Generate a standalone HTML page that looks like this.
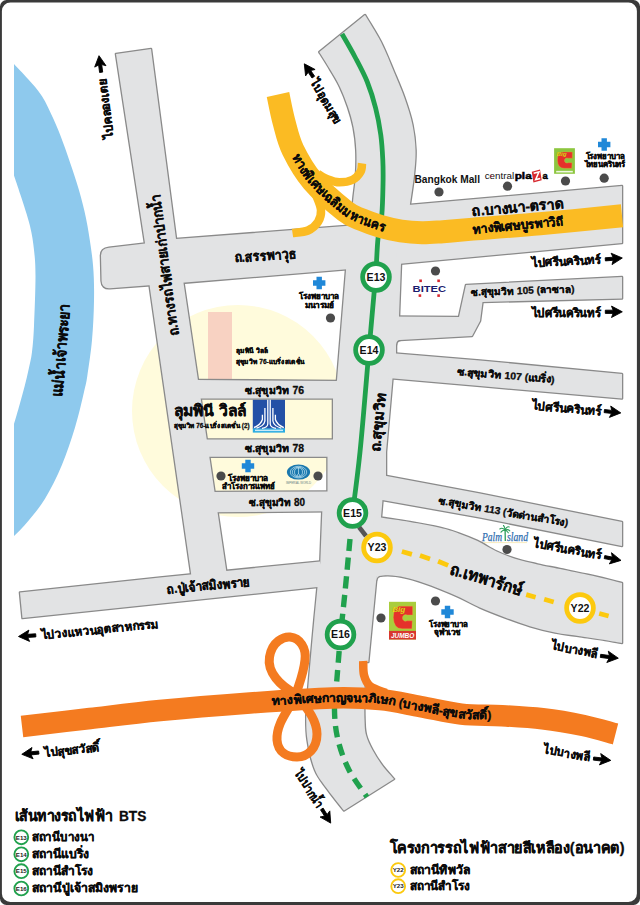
<!DOCTYPE html>
<html lang="th"><head><meta charset="utf-8"><title>Map</title>
<style>html,body{margin:0;padding:0;background:#fff}body{width:640px;height:905px;overflow:hidden;font-family:"Liberation Sans",sans-serif}svg{display:block}</style>
</head><body>
<svg width="640" height="905" viewBox="0 0 640 905" font-family="Liberation Sans, sans-serif">
<defs>
<path id="curveA" d="M295.46 155.03L297.31 158.44L300.57 164.19L303.92 169.52L308.39 175.88L311.2 179.43L312.7 181.22L316.83 185.76L322.61 191.53L327.03 195.67L331.3 199.52L336.91 204.38L342.75 209.21L348.93 213.85L355.7 217.4L361.82 219.73L367.94 222.22L375.3 224.78L382.02 226.77L391.7 229.4"/>
<path id="curveB" d="M271.99 701.41L275.83 701.14L282.39 700.69L288.63 700.27L296.34 699.77L303.15 699.35L309.24 699L317.34 698.58L325.2 698.23L331.77 698.01L340.41 697.83L349.83 697.81L357.19 697.95L363.75 698.23L370.5 698.67L376.52 699.17L382.51 699.77L391.53 701.02L398.77 702.3L404.83 703.49L411.35 704.81L417.49 706.02L425.38 707.5L433.4 709.13L439.72 710.44L446.17 711.72L453.59 713.03L461.06 714.07L468.1 714.69L475.16 715.02L482.98 715.19L489.25 715.29L500 715.46"/>
</defs>
<path d="M14 64C16.3 66.5 23.3 73.6 28 79C32.7 84.4 37.7 89.5 42 96.2C46.3 102.9 50.1 111.6 53.6 119.3C57.1 127 59.9 134 63 142.4C66.2 150.8 69.5 160.6 72.5 169.7C75.5 178.8 78.4 187.6 80.9 197C83.4 206.4 85.5 214.7 87.5 226C89.5 237.3 91.9 252.5 93 265C94.1 277.5 94.2 288.5 94 301C93.8 313.5 93.1 327.5 92 340C90.9 352.5 88.6 367.3 87.3 376C86 384.7 86 383.4 84 392C82 400.6 78.7 415.3 75 427.5C71.3 439.7 66.9 453.1 61.9 465C56.9 476.9 50.9 489.1 45 498.8C39.1 508.5 31.5 517 26.3 523.2C21.1 529.4 16.1 533.9 14 536 L14 424 C15 420.9 18 410.4 19.8 404C21.6 397.6 23.2 391.8 24.7 386C26.2 380.2 27.5 374.7 28.7 369C29.9 363.3 31.1 359.2 32 352C32.9 344.8 33.4 338.7 34 326C34.6 313.3 35.5 288.7 35.5 276C35.5 263.3 34.9 258.3 34 250C33.1 241.7 32.2 235.2 30 226C27.8 216.8 23.2 203.4 20.5 195C17.8 186.6 15.1 178.8 14 175.5 Z" fill="#8ec9ed"/>
<circle cx="238" cy="411" r="106" fill="#fffbdc"/>
<rect x="208" y="312" width="24" height="67.5" fill="#f8d2c2"/>
<g fill="none" stroke="#8a8a8a" stroke-width="2.6" stroke-linejoin="round">
<path d="M116 54L151 49L176 239L183.4 282.2L227 576L192 580L150 288.5L145 243.5Z"/>
<path d="M109 247.7 L145 243.6 L176 239 L352 225.6 L350 269 L185 282.6 L110 288.2 Q102 288.8 101.6 281 L101 255.5 Q101 248.5 109 247.7Z"/>
<path d="M319.3 52C321.2 55 327.1 64.2 330.5 70C333.9 75.8 337.1 80.8 340 87C342.9 93.2 345.7 100.2 348 107C350.3 113.8 352.2 120.3 353.6 127.5C355 134.7 355.9 142.1 356.3 150C356.7 157.9 356.5 166.7 356 175C355.5 183.3 354 191.7 353.2 200C352.4 208.3 351.8 216.7 351 225C350.2 233.3 349.3 242.5 348.5 250C347.7 257.5 346.4 266.7 346 270L337 380L333 398.8L333 439.6L327.5 456.8L327.5 491.8L322.3 511.5L320.3 562L317.5 587C317 592.5 315.4 608.8 314.3 620C313.2 631.2 312.2 642.7 311.2 654C310.2 665.3 309 677.8 308.2 688C307.4 698.2 306.4 706.3 306.3 715C306.2 723.7 306.1 730.8 307.5 740C308.9 749.2 311.6 761.7 315 770C318.4 778.3 323.2 783.2 328 790C332.8 796.8 341.3 807.1 344 810.5L394 779C392 776.7 385.6 769.8 382 765C378.4 760.2 375.2 755 372.5 750C369.8 745 367.3 740 366 735C364.7 730 364.8 727.5 364.5 720C364.2 712.5 364.3 699.7 364.5 690C364.7 680.3 365.3 666.7 365.5 662L368.3 662L376.6 576L381 517.5L382.5 500L386 476L386 452L392.5 378.5L396 353.5L396 340L399 316.5L401 264L410 204C410.7 199.2 413.1 184 414 175C414.9 166 415.8 158.3 415.5 150C415.2 141.7 414.3 133.7 412.5 125C410.7 116.3 407.6 106.8 404.5 98C401.4 89.2 397.9 81.3 394 72C390.1 62.7 385.8 51.5 381 42C376.2 32.5 367.7 19.5 365 15Z"/>
<path d="M196 380L340 381L340 398.5L196 398.5Z"/>
<path d="M203 439.6L336 439.6L336 456.8L203 456.8Z"/>
<path d="M210 492L330 491.5L330 511.3L210 512.3Z"/>
<path d="M20 592.5L160 577.5L320 561.5L320 586.8L22.5 618Z"/>
<path d="M405 205.3L622 186.1L622 243L395 264.3Z"/>
<path d="M466 285 L622 277 L622 298.5 L482.5 302 L480 321 L472 336 L400 340 L390 340 L390 316.5 L459 317Z"/>
<path d="M390 353L480 360.5L622 374L622 398.5L480 386L388 378Z"/>
<path d="M380 474.8L480 493.5L622 522L622 546L480 517.5L378 499.2Z"/>
<path d="M374 516C375.2 516.2 375 516.5 381 517.5C387 518.5 400.2 520.3 410 522C419.8 523.7 431.9 525.9 440 527.8C448.1 529.7 452.5 531.2 458.8 533.4C465 535.6 471.2 538 477.5 541C483.8 544 490 548.3 496.2 551.3C502.5 554.3 508.1 556.6 515 558.8C521.9 561 530 562.7 537.5 564.4C545 566.1 550.8 567.1 560 569C569.2 570.9 582.2 573.5 592.5 575.8C602.8 578.1 617.1 581.8 622 583L622 643C619.2 642.7 612 641.2 605 640C598 638.8 588.3 637.5 580 636.2C571.7 635 563.3 634.2 555 632.5C546.7 630.8 538.3 628.7 530 626.2C521.7 623.7 513.3 620.6 505 617.5C496.7 614.4 487.5 610.8 480 607.5C472.5 604.2 466.7 600.6 460 597.5C453.3 594.4 446.2 591.5 440 589C433.8 586.5 428.3 584.4 422.5 582.5C416.7 580.6 410.8 578.7 405 577.5C399.2 576.3 393.5 575.4 388 575.3C382.5 575.2 374.7 576.7 372 577Z"/>
<path d="M395.8 339.7L401 339.6Q396.3 340 396 345Z"/>
<path d="M376.3 575.6L381.5 575.3Q377 575.8 375.9 580.8Z"/>
</g><g fill="#e2e3e4">
<path d="M116 54L151 49L176 239L183.4 282.2L227 576L192 580L150 288.5L145 243.5Z"/>
<path d="M109 247.7 L145 243.6 L176 239 L352 225.6 L350 269 L185 282.6 L110 288.2 Q102 288.8 101.6 281 L101 255.5 Q101 248.5 109 247.7Z"/>
<path d="M319.3 52C321.2 55 327.1 64.2 330.5 70C333.9 75.8 337.1 80.8 340 87C342.9 93.2 345.7 100.2 348 107C350.3 113.8 352.2 120.3 353.6 127.5C355 134.7 355.9 142.1 356.3 150C356.7 157.9 356.5 166.7 356 175C355.5 183.3 354 191.7 353.2 200C352.4 208.3 351.8 216.7 351 225C350.2 233.3 349.3 242.5 348.5 250C347.7 257.5 346.4 266.7 346 270L337 380L333 398.8L333 439.6L327.5 456.8L327.5 491.8L322.3 511.5L320.3 562L317.5 587C317 592.5 315.4 608.8 314.3 620C313.2 631.2 312.2 642.7 311.2 654C310.2 665.3 309 677.8 308.2 688C307.4 698.2 306.4 706.3 306.3 715C306.2 723.7 306.1 730.8 307.5 740C308.9 749.2 311.6 761.7 315 770C318.4 778.3 323.2 783.2 328 790C332.8 796.8 341.3 807.1 344 810.5L394 779C392 776.7 385.6 769.8 382 765C378.4 760.2 375.2 755 372.5 750C369.8 745 367.3 740 366 735C364.7 730 364.8 727.5 364.5 720C364.2 712.5 364.3 699.7 364.5 690C364.7 680.3 365.3 666.7 365.5 662L368.3 662L376.6 576L381 517.5L382.5 500L386 476L386 452L392.5 378.5L396 353.5L396 340L399 316.5L401 264L410 204C410.7 199.2 413.1 184 414 175C414.9 166 415.8 158.3 415.5 150C415.2 141.7 414.3 133.7 412.5 125C410.7 116.3 407.6 106.8 404.5 98C401.4 89.2 397.9 81.3 394 72C390.1 62.7 385.8 51.5 381 42C376.2 32.5 367.7 19.5 365 15Z"/>
<path d="M196 380L340 381L340 398.5L196 398.5Z"/>
<path d="M203 439.6L336 439.6L336 456.8L203 456.8Z"/>
<path d="M210 492L330 491.5L330 511.3L210 512.3Z"/>
<path d="M20 592.5L160 577.5L320 561.5L320 586.8L22.5 618Z"/>
<path d="M405 205.3L622 186.1L622 243L395 264.3Z"/>
<path d="M466 285 L622 277 L622 298.5 L482.5 302 L480 321 L472 336 L400 340 L390 340 L390 316.5 L459 317Z"/>
<path d="M390 353L480 360.5L622 374L622 398.5L480 386L388 378Z"/>
<path d="M380 474.8L480 493.5L622 522L622 546L480 517.5L378 499.2Z"/>
<path d="M374 516C375.2 516.2 375 516.5 381 517.5C387 518.5 400.2 520.3 410 522C419.8 523.7 431.9 525.9 440 527.8C448.1 529.7 452.5 531.2 458.8 533.4C465 535.6 471.2 538 477.5 541C483.8 544 490 548.3 496.2 551.3C502.5 554.3 508.1 556.6 515 558.8C521.9 561 530 562.7 537.5 564.4C545 566.1 550.8 567.1 560 569C569.2 570.9 582.2 573.5 592.5 575.8C602.8 578.1 617.1 581.8 622 583L622 643C619.2 642.7 612 641.2 605 640C598 638.8 588.3 637.5 580 636.2C571.7 635 563.3 634.2 555 632.5C546.7 630.8 538.3 628.7 530 626.2C521.7 623.7 513.3 620.6 505 617.5C496.7 614.4 487.5 610.8 480 607.5C472.5 604.2 466.7 600.6 460 597.5C453.3 594.4 446.2 591.5 440 589C433.8 586.5 428.3 584.4 422.5 582.5C416.7 580.6 410.8 578.7 405 577.5C399.2 576.3 393.5 575.4 388 575.3C382.5 575.2 374.7 576.7 372 577Z"/>
<path d="M395.8 339.7L401 339.6Q396.3 340 396 345Z"/>
<path d="M376.3 575.6L381.5 575.3Q377 575.8 375.9 580.8Z"/>
</g>
<path d="M342 34C344.2 37.8 350.8 49 355 57C359.2 65 363.9 73.5 367.3 82C370.7 90.5 373.4 99.2 375.6 108C377.9 116.8 379.6 126.3 380.8 135C382 143.7 382.4 151.7 382.8 160C383.2 168.3 383.2 175.8 383 185C382.8 194.2 382.6 206.1 381.8 215C381 223.9 379.1 228.2 378 238.5C376.9 248.8 377 258.4 375.5 277C374 295.6 371.6 320.8 369 350C366.4 379.2 362.8 424.8 360 452C357.2 479.2 353.8 502.8 352.5 513" fill="none" stroke="#20a14d" stroke-width="4.8"/>
<path d="M350 539C349.2 547.5 346.8 574.1 345.2 590C343.6 605.9 341.3 627.1 340.5 634.5" fill="none" stroke="#20a14d" stroke-width="5.4" stroke-dasharray="12.1 6.65"/>
<path d="M340.5 634.5C339.9 641.8 338 665.3 337 678C336 690.7 334.3 700.2 334.5 710.5C334.7 720.8 335.6 730.1 338 740C340.4 749.9 344.2 760.5 349 770C353.8 779.5 364 792.5 367 797" fill="none" stroke="#20a14d" stroke-width="5.4" stroke-dasharray="11.5 7.25" stroke-dashoffset="2"/>
<g fill="none" stroke="#fbbb23">
<path d="M278 94.5C279 99.1 281.5 112.8 284 122C286.5 131.2 288.2 140.2 293 150C297.8 159.8 303.8 170.8 312.5 181C321.2 191.2 336.8 204.5 345 211C353.2 217.5 356.2 217.3 362 219.8C367.8 222.3 373.5 224.3 380 226.2C386.5 228.1 394 229.9 401 231C408 232.1 415 232.6 422 232.7C429 232.8 435 232.2 443 231.7C451 231.1 453.8 230.7 470 229.4C486.2 228.1 514.7 226.1 540 223.8C565.3 221.5 608.3 217.1 622 215.8" stroke-width="23"/>
<path d="M362 163.3C361.8 164.7 362.1 169.2 360.5 171.9C358.9 174.6 356.2 178 352.7 179.7C349.2 181.4 343.5 182.3 339.4 182.3C335.3 182.3 331.6 180.9 328 179.5C324.4 178.1 319.7 174.9 318 174" stroke-width="8.5"/>
<path d="M292.5 233C295.1 232.6 303.8 232.3 308 230.5C312.2 228.7 315.8 225.4 318 222C320.2 218.6 321.3 214.5 321 210C320.7 205.5 317.8 199.3 316 195C314.2 190.7 311 185.8 310 184" stroke-width="8.5"/>
</g>
<g fill="none" stroke="#f47b20">
<path d="M22 726.5C33.3 725.2 67 721.2 90 718.5C113 715.8 133.3 713.1 160 710.5C186.7 707.9 221.3 705.1 250 703C278.7 700.9 310.3 698.6 332 698C353.7 697.4 365.2 698.1 380 699.5C394.8 700.9 407.1 704.2 420.6 706.6C434.2 709 447.7 712.6 461.3 714.1C474.9 715.6 488.4 714.9 502 715.7C515.5 716.5 529.1 717.2 542.6 718.8C556.1 720.4 571.1 723 583.3 725.5C595.4 728 610.1 732.6 615.5 734" stroke-width="21.5"/>
<path d="M296 694C280 686 267 672 269.5 657C272 641 284 636.5 290 637C300 638 306.5 648 305 660C303.5 674 299 684 296 694C291 708 276 722 277 740C278 753 288 757 297 757C308 757 317 748 317 734C317 718 303 704 296 694Z" stroke-width="9"/>
<path d="M363.2 661C363.4 663.3 362.9 670.8 364 675C365.1 679.2 366.3 683 370 686C373.7 689 383.3 691.8 386 693" stroke-width="8.5"/>
</g>
<path d="M359 527L366 536" stroke="#555" stroke-width="4.5"/>
<path d="M401.9 551.5L411.9 554.4M420 555.6L430 559M438.1 561.3L448.1 565.4" stroke="#fcc90e" stroke-width="4.8" fill="none"/>
<path d="M526.2 594.6L535.6 597.2M544.2 599.2L553.7 602" stroke="#fcc90e" stroke-width="4.8" fill="none"/>
<path d="M599.2 613.5L608.6 616" stroke="#fcc90e" stroke-width="4.8" fill="none"/>
<g font-family="Liberation Sans, sans-serif" fill="#111">
<circle cx="376" cy="277" r="13.35" fill="#fff" stroke="#20a14d" stroke-width="4.8"/>
<text x="376" y="280.85" text-anchor="middle" font-size="10.6" font-weight="700">E13</text>
<circle cx="369" cy="350" r="13.35" fill="#fff" stroke="#20a14d" stroke-width="4.8"/>
<text x="369" y="353.85" text-anchor="middle" font-size="10.6" font-weight="700">E14</text>
<circle cx="352.5" cy="513" r="13.35" fill="#fff" stroke="#20a14d" stroke-width="4.8"/>
<text x="352.5" y="516.85" text-anchor="middle" font-size="10.6" font-weight="700">E15</text>
<circle cx="340.5" cy="634.5" r="13.35" fill="#fff" stroke="#20a14d" stroke-width="4.8"/>
<text x="340.5" y="638.35" text-anchor="middle" font-size="10.6" font-weight="700">E16</text>
<circle cx="377" cy="547.5" r="13.35" fill="#fff" stroke="#fcc90e" stroke-width="4.8"/>
<text x="377" y="551.35" text-anchor="middle" font-size="10.6" font-weight="700">Y23</text>
<circle cx="580" cy="608" r="13.35" fill="#fff" stroke="#fcc90e" stroke-width="4.8"/>
<text x="580" y="611.85" text-anchor="middle" font-size="10.6" font-weight="700">Y22</text>
</g>
<circle cx="439" cy="192" r="4.6" fill="#4b4b4b"/>
<circle cx="507.5" cy="186.2" r="4.6" fill="#4b4b4b"/>
<circle cx="565.5" cy="181" r="4.6" fill="#4b4b4b"/>
<circle cx="604.2" cy="178.2" r="4.6" fill="#4b4b4b"/>
<circle cx="435.5" cy="271" r="4.6" fill="#4b4b4b"/>
<circle cx="330.5" cy="318" r="4.6" fill="#4b4b4b"/>
<circle cx="221" cy="476" r="4.6" fill="#4b4b4b"/>
<circle cx="318" cy="476" r="4.6" fill="#4b4b4b"/>
<circle cx="381" cy="618" r="4.6" fill="#4b4b4b"/>
<circle cx="435.5" cy="601" r="4.6" fill="#4b4b4b"/>
<circle cx="507" cy="549.5" r="4.6" fill="#4b4b4b"/>
<path d="M601.5 138.3h5.4v3.5h3.5v5.4h-3.5v3.5h-5.4v-3.5h-3.5v-5.4h3.5Z" fill="#2088d8"/>
<path d="M316.5 276.8h5.4v3.5h3.5v5.4h-3.5v3.5h-5.4v-3.5h-3.5v-5.4h3.5Z" fill="#2088d8"/>
<path d="M245.3 459.8h5.4v3.5h3.5v5.4h-3.5v3.5h-5.4v-3.5h-3.5v-5.4h3.5Z" fill="#2088d8"/>
<path d="M444.8 605.8h5.4v3.5h3.5v5.4h-3.5v3.5h-5.4v-3.5h-3.5v-5.4h3.5Z" fill="#2088d8"/>
<g fill="#0b0b0b" stroke="#0b0b0b" stroke-width="0.3" stroke-linejoin="round" font-family="Liberation Sans, sans-serif" font-weight="700">
<text transform="translate(109.5 138.5) rotate(-96.5)" y="3.85" font-size="12" textLength="60.4" lengthAdjust="spacingAndGlyphs">ไปคลองเตย</text>
<path d="M102.7 72.1L101.7 64.6L106 65.7L99 55.7L94.7 67.1L98.6 65L99.6 72.5Z" fill="#000" stroke="#000" stroke-width="0.9" stroke-linejoin="round"/>
<text transform="translate(313.5 80.5) rotate(59.5)" y="3.85" font-size="12" textLength="49.3" lengthAdjust="spacingAndGlyphs">ไปอุดมสุข</text>
<path d="M314.6 76.2L310.7 70.5L315.1 69.5L304.3 63.8L305.6 75.9L308.2 72.3L312 78Z" fill="#000" stroke="#000" stroke-width="0.9" stroke-linejoin="round"/>
<text transform="translate(531.7 263.2) rotate(-2.8)" y="3.85" font-size="12" textLength="68.9" lengthAdjust="spacingAndGlyphs">ไปศรีนครินทร์</text>
<path d="M605.4 260.9L613.2 260.3L612 264.6L622.3 258L611.1 253.2L613 257.2L605.2 257.8Z" fill="#000" stroke="#000" stroke-width="0.9" stroke-linejoin="round"/>
<text transform="translate(531.7 312.7)" y="3.85" font-size="12" textLength="68.8" lengthAdjust="spacingAndGlyphs">ไปศรีนครินทร์</text>
<path d="M605.3 313.4L613.1 313.4L611.5 317.5L622.3 311.8L611.5 306.1L613.1 310.2L605.3 310.2Z" fill="#000" stroke="#000" stroke-width="0.9" stroke-linejoin="round"/>
<text transform="translate(532 405.5) rotate(5)" y="3.85" font-size="12" textLength="69.3" lengthAdjust="spacingAndGlyphs">ไปศรีนครินทร์</text>
<path d="M604.1 412.6L611.5 413.4L609.4 417.4L620.8 412.9L610.7 406.1L611.8 410.4L604.5 409.5Z" fill="#000" stroke="#000" stroke-width="0.9" stroke-linejoin="round"/>
<text transform="translate(534 543) rotate(10.6)" y="3.85" font-size="12" textLength="68.2" lengthAdjust="spacingAndGlyphs">ไปศรีนครินทร์</text>
<path d="M604.2 558.6L611.7 560.1L609.3 563.9L621 560.4L611.5 552.7L612.3 557.1L604.8 555.6Z" fill="#000" stroke="#000" stroke-width="0.9" stroke-linejoin="round"/>
<text transform="translate(41.3 635.5) rotate(-5.6)" y="3.85" font-size="12" textLength="117.3" lengthAdjust="spacingAndGlyphs">ไปวงแหวนอุตสาหกรรม</text>
<path d="M35.7 633.8L27.6 634.3L28.9 630.1L18.5 636.5L29.6 641.4L27.8 637.4L35.9 636.9Z" fill="#000" stroke="#000" stroke-width="0.9" stroke-linejoin="round"/>
<text transform="translate(44.5 753) rotate(-5.7)" y="3.85" font-size="12" textLength="55.1" lengthAdjust="spacingAndGlyphs">ไปสุขสวัสดิ์</text>
<path d="M38.6 751L30.8 751.8L32 747.5L21.8 754.3L33.1 758.8L31.1 754.9L39 754.1Z" fill="#000" stroke="#000" stroke-width="0.9" stroke-linejoin="round"/>
<text transform="translate(551.3 645.5) rotate(10.4)" y="3.85" font-size="12" textLength="47" lengthAdjust="spacingAndGlyphs">ไปบางพลี</text>
<path d="M600.3 657.4L609 658.6L606.8 662.5L618.3 658.2L608.3 651.2L609.4 655.5L600.7 654.3Z" fill="#000" stroke="#000" stroke-width="0.9" stroke-linejoin="round"/>
<text transform="translate(543.8 749.3) rotate(10.1)" y="3.85" font-size="12" textLength="46.9" lengthAdjust="spacingAndGlyphs">ไปบางพลี</text>
<path d="M593.3 760.1L601.5 761L599.4 764.9L610.8 760.4L600.7 753.6L601.8 757.9L593.7 757Z" fill="#000" stroke="#000" stroke-width="0.9" stroke-linejoin="round"/>
<text transform="translate(297.5 771) rotate(57.4)" y="3.85" font-size="12" textLength="42.7" lengthAdjust="spacingAndGlyphs">ไปปากน้ำ</text>
<path d="M320.5 809.8L324.5 816.1L320.1 817L330.7 823.1L329.8 810.9L327.1 814.5L323.1 808.1Z" fill="#000" stroke="#000" stroke-width="0.9" stroke-linejoin="round"/>
<text transform="translate(174 335.5) rotate(-97.6)" y="4.65" font-size="14" textLength="142.7" lengthAdjust="spacingAndGlyphs">ถ.ทางรถไฟสายเก่าปากน้ำ</text>
<text transform="translate(57.5 397) rotate(-85.4)" y="5" font-size="15.5" textLength="93.8" lengthAdjust="spacingAndGlyphs">แม่น้ำเจ้าพระยา</text>
<text transform="translate(234.4 257.8) rotate(-3.7)" y="4.65" font-size="14" textLength="62" lengthAdjust="spacingAndGlyphs">ถ.สรรพาวุธ</text>
<text transform="translate(472 211.2) rotate(-4.8)" y="4.8" font-size="14.5" textLength="91.3" lengthAdjust="spacingAndGlyphs">ถ.บางนา-ตราด</text>
<text transform="translate(473 229.5) rotate(-5.1)" y="4.1" font-size="12.5" textLength="90.8" lengthAdjust="spacingAndGlyphs">ทางพิเศษบูรพาวิถี</text>
<text transform="translate(471 292.5) rotate(-1.9)" y="3.2" font-size="10" textLength="103.6" lengthAdjust="spacingAndGlyphs">ซ.สุขุมวิท 105 (ลาซาล)</text>
<text transform="translate(457 371.5) rotate(5)" y="3.2" font-size="10" textLength="97.9" lengthAdjust="spacingAndGlyphs">ซ.สุขุมวิท 107 (แบริ่ง)</text>
<text transform="translate(438.5 500.5) rotate(9.9)" y="3.2" font-size="10" textLength="131.5" lengthAdjust="spacingAndGlyphs">ซ.สุขุมวิท 113 (วัดด่านสำโรง)</text>
<text transform="translate(375 452) rotate(-83.9)" y="4.65" font-size="14" textLength="58.9" lengthAdjust="spacingAndGlyphs">ถ.สุขุมวิท</text>
<text transform="translate(450.5 568.5) rotate(17)" y="5.4" font-size="16.5" textLength="75" lengthAdjust="spacingAndGlyphs">ถ.เทพารักษ์</text>
<text transform="translate(167 589) rotate(-5.2)" y="4.65" font-size="13" textLength="83.3" lengthAdjust="spacingAndGlyphs">ถ.ปู่เจ้าสมิงพราย</text>
<text transform="translate(245 390.5)" y="3.2" font-size="10" textLength="59" lengthAdjust="spacingAndGlyphs">ซ.สุขุมวิท 76</text>
<text transform="translate(245 448.4)" y="3.2" font-size="10" textLength="59" lengthAdjust="spacingAndGlyphs">ซ.สุขุมวิท 78</text>
<text transform="translate(249 502.3)" y="3.2" font-size="10" textLength="56" lengthAdjust="spacingAndGlyphs">ซ.สุขุมวิท 80</text>
<text transform="translate(174 411)" y="5" font-size="15.5" textLength="72" lengthAdjust="spacingAndGlyphs">ลุมพินี วิลล์</text>
<text transform="translate(174 425.5)" y="2.3" font-size="7" textLength="75.5" lengthAdjust="spacingAndGlyphs">สุขุมวิท 76-แบริ่ง สเตชั่น (2)</text>
<text transform="translate(236 351)" y="2.3" font-size="7" textLength="31.5" lengthAdjust="spacingAndGlyphs">ลุมพินี วิลล์</text>
<text transform="translate(236 362)" y="2.3" font-size="7" textLength="69" lengthAdjust="spacingAndGlyphs">สุขุมวิท 76-แบริ่ง สเตชั่น</text>
<text transform="translate(585.5 156.3)" y="2.55" font-size="8" textLength="39" lengthAdjust="spacingAndGlyphs">โรงพยาบาล</text>
<text transform="translate(584.5 164.7)" y="2.55" font-size="8" textLength="40.5" lengthAdjust="spacingAndGlyphs">ไทยนครินทร์</text>
<text transform="translate(298.5 296.5)" y="2.55" font-size="8" textLength="40" lengthAdjust="spacingAndGlyphs">โรงพยาบาล</text>
<text transform="translate(305 305.5)" y="2.55" font-size="8" textLength="29" lengthAdjust="spacingAndGlyphs">มนารมย์</text>
<text transform="translate(227.5 478)" y="2.55" font-size="8" textLength="40.5" lengthAdjust="spacingAndGlyphs">โรงพยาบาล</text>
<text transform="translate(222 486.2)" y="2.55" font-size="8" textLength="53" lengthAdjust="spacingAndGlyphs">สำโรงการแพทย์</text>
<text transform="translate(428.8 624)" y="2.55" font-size="8" textLength="39.2" lengthAdjust="spacingAndGlyphs">โรงพยาบาล</text>
<text transform="translate(433.8 632.5)" y="2.55" font-size="8" textLength="26.2" lengthAdjust="spacingAndGlyphs">จุฬาเวช</text>
<text font-size="13" dy="4.3"><textPath href="#curveA" textLength="119" lengthAdjust="spacingAndGlyphs">ทางพิเศษเฉลิมมหานคร</textPath></text>
<text font-size="12" dy="4"><textPath href="#curveB" textLength="221" lengthAdjust="spacingAndGlyphs">ทางพิเศษกาญจนาภิเษก (บางพลี-สุขสวัสดิ์)</textPath></text>
<text transform="translate(14.5 816.5)" y="4.6" font-size="15" textLength="98" lengthAdjust="spacingAndGlyphs">เส้นทางรถไฟฟ้า</text>
<text transform="translate(118.9 816.9)" y="4.25" font-size="14" textLength="27.4" lengthAdjust="spacingAndGlyphs">BTS</text>
<text transform="translate(32 837.3)" y="3.8" font-size="12" textLength="62.5" lengthAdjust="spacingAndGlyphs">สถานีบางนา</text>
<text transform="translate(32 854.3)" y="3.8" font-size="12" textLength="57.5" lengthAdjust="spacingAndGlyphs">สถานีแบริ่ง</text>
<text transform="translate(32 871.2)" y="3.8" font-size="12" textLength="60.8" lengthAdjust="spacingAndGlyphs">สถานีสำโรง</text>
<text transform="translate(32 888.5)" y="3.8" font-size="12" textLength="105.8" lengthAdjust="spacingAndGlyphs">สถานีปู่เจ้าสมิงพราย</text>
<text transform="translate(389.5 848.3)" y="4.6" font-size="15" textLength="235" lengthAdjust="spacingAndGlyphs">โครงการรถไฟฟ้าสายสีเหลือง(อนาคต)</text>
<text transform="translate(410 870)" y="3.8" font-size="12" textLength="60" lengthAdjust="spacingAndGlyphs">สถานีทิพวัล</text>
<text transform="translate(410 886.2)" y="3.8" font-size="12" textLength="59.5" lengthAdjust="spacingAndGlyphs">สถานีสำโรง</text>
</g>
<circle cx="21.3" cy="837.3" r="6.9" fill="#fff" stroke="#20a14d" stroke-width="1.9"/><text x="21.3" y="839.5" text-anchor="middle" font-size="6.2" font-weight="700" fill="#222" stroke="none">E13</text>
<circle cx="21.3" cy="854.3" r="6.9" fill="#fff" stroke="#20a14d" stroke-width="1.9"/><text x="21.3" y="856.5" text-anchor="middle" font-size="6.2" font-weight="700" fill="#222" stroke="none">E14</text>
<circle cx="21.3" cy="871.2" r="6.9" fill="#fff" stroke="#20a14d" stroke-width="1.9"/><text x="21.3" y="873.4000000000001" text-anchor="middle" font-size="6.2" font-weight="700" fill="#222" stroke="none">E15</text>
<circle cx="21.3" cy="888.5" r="6.9" fill="#fff" stroke="#20a14d" stroke-width="1.9"/><text x="21.3" y="890.7" text-anchor="middle" font-size="6.2" font-weight="700" fill="#222" stroke="none">E16</text>
<circle cx="398.2" cy="870" r="6.9" fill="#fff" stroke="#fcc90e" stroke-width="1.9"/><text x="398.2" y="872.2" text-anchor="middle" font-size="6.2" font-weight="700" fill="#222" stroke="none">Y22</text>
<circle cx="398.2" cy="886.2" r="6.9" fill="#fff" stroke="#fcc90e" stroke-width="1.9"/><text x="398.2" y="888.4000000000001" text-anchor="middle" font-size="6.2" font-weight="700" fill="#222" stroke="none">Y23</text>
<text x="414.5" y="182.6" font-size="10.2" font-weight="700" fill="#111" textLength="65.5" lengthAdjust="spacingAndGlyphs">Bangkok Mall</text>
<rect x="554.1" y="148.2" width="20.8" height="25.6" fill="#8dc63f"/>
<path d="M572.3 152.04L561.89 152.04Q557.43 153.67 557.43 160.17Q557.73 168.3 564.12 168.3L571.71 168.3L572 162.77L568.06 162.77A2.53 2.53 0 1 1 568.06 158.22L572.3 158.22Z" fill="#e5312b" stroke="#f4a23a" stroke-width="0.35"/>
<text x="556.6" y="156.27" font-size="6.24" font-weight="700" font-style="italic" fill="#ffe11a" stroke="#8a7a10" stroke-width="0.2">Big</text>
<rect x="556.18" y="170.86" width="16.64" height="1.6" fill="#fff" opacity="0.85"/>
<rect x="389" y="601.8" width="27" height="37.7" fill="#a9cd3d"/>
<path d="M412.62 606.17L399.11 606.17Q393.32 608.42 393.32 617.44Q393.71 628.72 402.01 628.72L411.85 628.72L412.24 620.85L407.12 620.85A3.28 3.28 0 1 1 407.12 614.94L412.62 614.94Z" fill="#e5312b" stroke="#f4a23a" stroke-width="0.35"/>
<text x="392.24" y="612.03" font-size="8.1" font-weight="700" font-style="italic" fill="#ffe11a" stroke="#8a7a10" stroke-width="0.2">Big</text>
<rect x="389" y="630.9" width="27" height="8.6" fill="#d8372f"/>
<text x="390.89" y="637.6" font-size="6.7" font-weight="700" font-style="italic" fill="#fff" textLength="23.49" lengthAdjust="spacingAndGlyphs">JUMBO</text>
<rect x="252.8" y="399.8" width="32.2" height="29" fill="#2350a6"/><rect x="252.8" y="428.4" width="32.2" height="4.2" fill="#29abe2"/>
<g fill="none" stroke="#fff" stroke-width="1.3">
<path d="M267.8 399.8V424Q267.5 427.6 262 428.4M270.2 399.8V424Q270.5 427.6 276 428.4"/>
<path d="M264.9 408V421Q264 426 256.5 428.2M272.9 408V421Q273.8 426 281.3 428.2"/>
<path d="M262.4 414.7V419.5Q261 424.5 254 427.6M275.4 414.7V419.5Q276.8 424.5 283.8 427.6"/>
</g>
<rect x="255" y="429.6" width="28" height="1.5" fill="#fff" opacity="0.75"/>
<ellipse cx="298.5" cy="472.1" rx="11.6" ry="7.5" fill="#1a78ae"/>
<g fill="none" stroke="#c4e6f3" stroke-width="0.7"><ellipse cx="298.5" cy="472.1" rx="8.2" ry="5.8"/><ellipse cx="298.5" cy="472.1" rx="6.2" ry="4.9"/><ellipse cx="298.5" cy="472.1" rx="4" ry="4.2"/><path d="M298.5 467.2V474M296.8 476.5Q298.5 471 300.2 476.5"/></g>
<text x="286" y="484.3" font-size="2.7" fill="#5d7b80" textLength="25" lengthAdjust="spacingAndGlyphs">IMPERIAL WORLD</text>
<g font-family="Liberation Serif, serif" font-style="italic" font-size="11.5" fill="#2f6eb0" stroke="#2f6eb0" stroke-width="0.25">
<text x="482" y="541" textLength="20" lengthAdjust="spacingAndGlyphs">Palm</text><text x="507" y="541" textLength="21" lengthAdjust="spacingAndGlyphs">sland</text></g>
<path d="M505.3 541L505.1 530" stroke="#2e9e5b" stroke-width="1.3" fill="none"/>
<path d="M505.1 530.5Q502.5 527 499.8 529M505.1 530.5Q503 529.5 501 532.2M505.1 530.5Q506.5 526 509.2 527M505.1 530.5Q507.5 528.5 509.8 530.8M505.1 530.5Q505 527 503.5 525.5M505.1 530.5Q507 530.5 508.3 532.8" stroke="#2e9e5b" stroke-width="1.1" fill="none" stroke-linecap="round"/>
<path d="M483.5 542.6H527" stroke="#f3e3a2" stroke-width="0.7"/>
<text x="412.6" y="291.6" font-size="9.3" font-weight="700" fill="#1b1b6e" textLength="33.4" lengthAdjust="spacingAndGlyphs">BITEC</text>
<rect x="419.3" y="279.5" width="2.6" height="2.6" fill="#d7282f"/>
<rect x="437.3" y="279.5" width="2.6" height="2.6" fill="#d7282f"/>
<rect x="418.6" y="294.3" width="2.6" height="2.6" fill="#d7282f"/>
<rect x="437.3" y="294.3" width="2.6" height="2.6" fill="#d7282f"/>
<text x="484.7" y="179.1" font-size="9.4" fill="#111" textLength="29.5" lengthAdjust="spacingAndGlyphs">central</text>
<circle cx="491.2" cy="176.3" r="0.8" fill="#d7282f"/>
<text x="514.7" y="179.1" font-size="9.4" font-weight="700" fill="#000" stroke="#000" stroke-width="0.5" textLength="17" lengthAdjust="spacingAndGlyphs">pla</text>
<path d="M531.8 171.8L540 169.6L541.7 180.3L533.4 182.5Z" fill="#d7282f"/><path d="M533.7 173.2L539 171.9L535.6 179.6L540.3 178.6" stroke="#fff" stroke-width="1.5" fill="none"/>
<text x="542.4" y="179.1" font-size="9.4" font-weight="700" fill="#000" stroke="#000" stroke-width="0.5">a</text>
<path d="M6.5 0h627a6.5 6.5 0 0 1 6.5 6.5v892a6.5 6.5 0 0 1 -6.5 6.5h-627a6.5 6.5 0 0 1 -6.5 -6.5v-892a6.5 6.5 0 0 1 6.5 -6.5ZM10.4 2.4h618a8.5 8.5 0 0 1 8.5 8.5v882.5a8.5 8.5 0 0 1 -8.5 8.5h-618a8.5 8.5 0 0 1 -8.5 -8.5v-882.5a8.5 8.5 0 0 1 8.5 -8.5Z" fill="#3a3a3a" fill-rule="evenodd"/>
</svg>
</body></html>
